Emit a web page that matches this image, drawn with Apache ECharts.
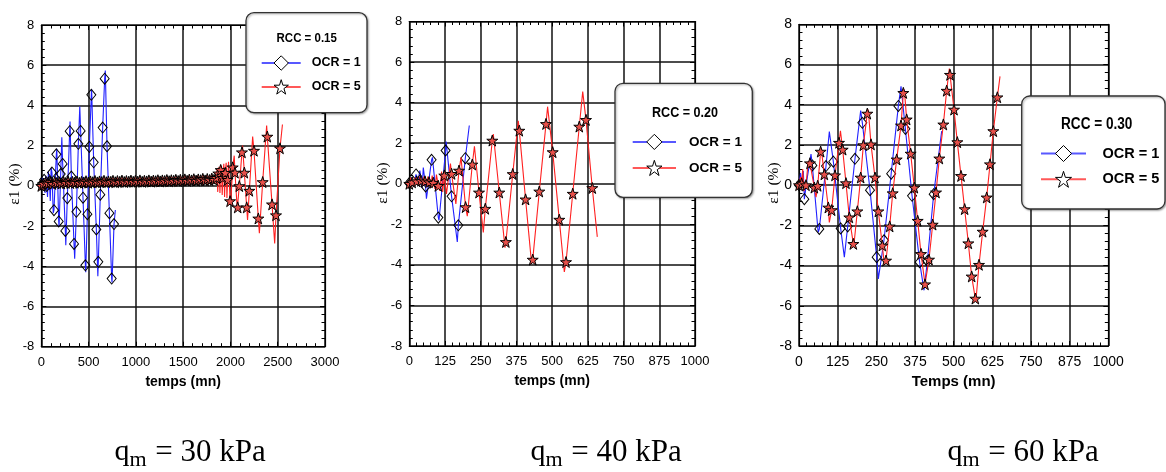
<!DOCTYPE html>
<html>
<head>
<meta charset="utf-8">
<script src="https://cdn.jsdelivr.net/npm/echarts@6/dist/echarts.min.js"></script>
<style>
html,body{margin:0;padding:0;background:#fff;}
#c{width:1166px;height:472px;}
</style>
</head>
<body>
<div id="c"></div>
<script>
// ---------------- DATA ----------------
// each point: [temps (mn), eps1 (%), marker(1) / line vertex only(0)]
const p1_ocr1 = [[0,0.05,1],[12,0.4,0],[22,-0.2,0],[30,0.3,1],[40,-0.35,0],[48,0.5,0],[58,0.0,1],[66,-0.55,0],[75,0.7,0],[85,0.2,1],[95,-0.75,0],[104,0.9,0],[113,0.66,1],[126,-1.35,0],[134,-1.21,1],[159,1.57,1],[164,1.85,0],[184,-1.77,1],[188,-2.04,0],[205,0.59,1],[217,2.42,0],[226,1.09,1],[254,-2.24,1],[259,-2.95,0],[275,-0.61,1],[300,2.72,1],[304,3.2,0],[318,0.46,1],[346,-2.89,1],[353,-3.62,0],[371,-1.29,1],[392,2.09,1],[407,3.95,0],[416,2.73,1],[441,-0.59,1],[466,-3.95,1],[470,-4.3,0],[487,-1.41,1],[508,1.94,1],[529,4.53,1],[532,4.81,0],[554,1.17,1],[582,-2.17,1],[598,-4.5,0],[603,-3.78,1],[624,-0.44,1],[649,2.9,1],[670,5.33,1],[677,5.74,0],[695,1.97,1],[720,-1.36,1],[744,-4.61,1],[748,-4.8,0],[769,-1.9,1],[783,-1.2,0]];
const p1_ocr5 = [[0,0.0,1],[20,0.1,1],[45,0.15,1],[70,0.12,1],[95,0.18,1],[118,0.1,1],[142,0.2,1],[165,0.15,1],[190,0.18,1],[212,0.12,1],[236,0.2,1],[260,0.15,1],[283,0.22,1],[307,0.14,1],[330,0.2,1],[355,0.16,1],[378,0.22,1],[402,0.15,1],[425,0.2,1],[450,0.17,1],[473,0.23,1],[497,0.16,1],[520,0.22,1],[545,0.18,1],[568,0.24,1],[592,0.17,1],[615,0.22,1],[640,0.19,1],[663,0.25,1],[687,0.18,1],[710,0.22,1],[735,0.2,1],[758,0.25,1],[782,0.18,1],[805,0.24,1],[830,0.2,1],[853,0.26,1],[877,0.19,1],[900,0.24,1],[925,0.21,1],[948,0.26,1],[972,0.2,1],[995,0.25,1],[1020,0.21,1],[1043,0.27,1],[1067,0.2,1],[1090,0.25,1],[1115,0.22,1],[1138,0.27,1],[1162,0.21,1],[1185,0.26,1],[1210,0.23,1],[1233,0.28,1],[1257,0.22,1],[1280,0.27,1],[1305,0.24,1],[1328,0.29,1],[1352,0.23,1],[1375,0.28,1],[1400,0.25,1],[1423,0.3,1],[1447,0.24,1],[1470,0.3,1],[1495,0.26,1],[1518,0.32,1],[1542,0.25,1],[1565,0.31,1],[1590,0.27,1],[1613,0.33,1],[1637,0.26,1],[1660,0.32,1],[1685,0.28,1],[1708,0.35,1],[1732,0.27,1],[1755,0.34,1],[1780,0.29,1],[1803,0.36,1],[1827,0.3,1],[1850,0.4,1],[1858,0.8,0],[1866,-0.3,0],[1872,0.62,1],[1880,0.95,0],[1889,-0.35,0],[1897,0.79,1],[1905,1.0,0],[1913,-0.45,0],[1920,0.4,1],[1930,1.1,0],[1938,-0.55,0],[1945,0.65,1],[1955,1.15,0],[1963,-0.6,0],[1970,0.3,1],[1980,1.2,0],[1996,-0.76,1],[2002,-0.95,0],[2024,0.92,1],[2040,1.5,0],[2048,0.66,1],[2072,-1.15,0],[2077,-1.07,1],[2094,-0.01,1],[2122,1.67,1],[2128,2.0,0],[2147,0.66,1],[2172,-1.07,1],[2181,-1.7,0],[2200,-0.24,1],[2235,2.45,0],[2249,1.75,1],[2295,-1.62,1],[2306,-2.35,0],[2341,0.19,1],[2383,3.0,0],[2390,2.45,1],[2440,-0.92,1],[2468,-2.87,0],[2482,-1.46,1],[2524,1.87,1],[2550,3.05,0]];

const p2_ocr1 = [[0,0.03,1],[8,0.3,0],[15,-0.1,0],[23.5,0.46,1],[30,0.1,0],[37,0.65,0],[45,-0.2,0],[49,0.8,0],[57,-0.13,1],[60,-0.74,0],[78,1.18,1],[81,1.3,0],[101.6,-1.67,1],[104,-1.8,0],[127,1.64,1],[129,2.08,0],[148,-0.62,1],[168,-2.87,0],[171.6,-2.05,1],[196,1.26,1],[210,2.87,0]];
const p2_ocr5 = [[0,0.0,1],[5,0.3,0],[10,0.07,1],[15,-0.1,0],[20,0.3,0],[26,0.12,1],[32,-0.1,0],[36,0.35,0],[41,0.15,1],[47,-0.1,0],[51,0.35,0],[55,0.12,1],[61,-0.15,0],[65,0.35,0],[69,0.08,1],[75,-0.2,0],[80,0.4,0],[84,0.05,1],[90,-0.25,0],[95,0.45,0],[101.5,-0.1,1],[107,-0.35,0],[113,0.6,0],[117,-0.4,0],[122.5,0.41,1],[130,-0.5,0],[144,1.0,0],[148,0.49,1],[163,-1.0,0],[174,0.65,1],[181,1.3,0],[197,-1.15,1],[203,-1.6,0],[220.5,0.95,1],[228,1.85,0],[244,-0.43,1],[259,-2.4,0],[266,-1.23,1],[290.5,2.13,1],[294,2.45,0],[315,-0.43,1],[335,-3.15,0],[338,-2.87,1],[362,0.48,1],[381.5,3.1,0],[385,2.62,1],[407,-0.77,1],[428,-3.94,0],[432,-3.74,1],[455,-0.38,1],[478.5,2.95,1],[484,3.8,0],[502,1.56,1],[525,-1.77,1],[542.6,-4.35,0],[548.5,-3.86,1],[572,-0.49,1],[595,2.82,1],[607,4.54,0],[618.5,3.15,1],[640.5,-0.21,1],[658,-2.62,0]];

const p3_ocr1 = [[0,0,1],[5,0.6,0],[10,-0.1,0],[14,0.7,0],[17.3,-0.7,1],[25,0.2,0],[38.8,1.54,0],[43.1,0.98,1],[62,-2.35,0],[65.7,-2.18,1],[87.3,0.95,1],[98.1,2.66,0],[111,1.17,1],[134.7,-2.15,1],[146.6,-3.58,0],[157.4,-2.05,1],[181,1.31,1],[199.4,3.71,0],[204.8,3.1,1],[229.6,-0.25,1],[251.1,-3.58,1],[256.5,-4.66,0],[274.8,-2.74,1],[298,0.57,1],[321.2,3.94,1],[329.8,4.92,0],[344,2.8,1],[365.5,-0.53,1],[390,-3.83,1],[404.2,-5.23,0],[415,-3.78,1],[435.4,-0.45,1],[461.3,2.69,0]];
const p3_ocr5 = [[0,0,1],[5,0.4,0],[8.6,0.08,1],[12,0.8,0],[16,-0.3,0],[22.6,0,1],[30,1.2,0],[35.5,1.09,1],[49.6,-0.12,1],[55,-0.6,0],[60.4,-0.03,1],[70,1.67,1],[72,1.78,0],[81.9,0.54,1],[94.8,-1.11,1],[98,-1.85,0],[105.6,-1.24,1],[116.4,0.49,1],[129.3,2.11,1],[134,2.7,0],[141.2,1.77,1],[151.9,0.1,1],[162.7,-1.6,1],[175.7,-2.92,1],[177,-3.05,0],[188.6,-1.3,1],[199.4,0.38,1],[208,1.99,1],[220.9,3.56,1],[224,3.75,0],[232.8,2.03,1],[245.7,0.38,1],[256.5,-1.3,1],[269.4,-3.0,1],[276,-3.95,0],[281.3,-3.75,1],[293.2,-2.05,1],[302.9,-0.4,1],[315.8,1.28,1],[329.8,2.97,1],[337.3,4.59,1],[340.6,4.75,0],[348.1,3.27,1],[361,1.57,1],[372.9,-0.12,1],[383.7,-1.77,1],[394.5,-3.42,1],[407.4,-4.93,1],[420.3,-3.7,1],[432.2,-1.96,1],[443,-0.36,1],[453.7,1.33,1],[466.7,3.02,1],[477.4,4.7,1],[486,5.8,0],[488.2,5.49,1],[501.2,3.76,1],[511.9,2.14,1],[523.8,0.46,1],[535.6,-1.19,1],[547.5,-2.89,1],[558.3,-4.54,1],[570.1,-5.64,1],[572,-5.75,0],[582,-3.96,1],[593.8,-2.31,1],[606.8,-0.61,1],[617.5,1.04,1],[628.3,2.69,1],[641.3,4.37,1],[649.9,5.41,0]];

const xMax = [3000, 1000, 1000];
const xInterval = [500, 125, 125];
const xNames = ['temps (mn)', 'temps (mn)', 'Temps (mn)'];
const yName = 'ε1 (%)';
const rccLabels = ['RCC = 0.15', 'RCC = 0.20', 'RCC = 0.30'];
const seriesNames = ['OCR = 1', 'OCR = 5'];
const captions = ['30', '40', '60'];

// ---------------- LAYOUT ----------------
const SANS = '"Liberation Sans", Arial, sans-serif';
const SERIF = '"Liberation Serif", "Times New Roman", serif';
const grids = [
  {left: 41.3, top: 25, width: 283.7, height: 321.7},
  {left: 409.3, top: 21.5, width: 285.7, height: 324.5},
  {left: 799, top: 24.3, width: 309.3, height: 321.7}
];
const labelFs = [13, 13, 14];
const nameFs = [14, 14, 15];
const STAR = 'path://M50,0 L61.2,34.5 L97.6,34.5 L68.2,55.9 L79.4,90.5 L50,69.1 L20.6,90.5 L31.8,55.9 L2.4,34.5 L38.8,34.5 Z';

const xAxis = [], yAxis = [], series = [];
const fmt = v => String(v);
for (let i = 0; i < 3; i++) {
  const tickCommon = {show: true, inside: true, length: 5, lineStyle: {color: '#000', width: 1}};
  const minor = {show: true, splitNumber: 5, length: 3.5, lineStyle: {color: '#000', width: 1}};
  xAxis.push({
    gridIndex: i, type: 'value', min: 0, max: xMax[i], interval: xInterval[i], position: 'bottom',
    axisLine: {show: true, onZero: false, lineStyle: {color: '#000', width: 1.2}},
    axisTick: tickCommon, minorTick: minor,
    splitLine: {show: true, lineStyle: {color: '#111', width: 1.5}},
    axisLabel: {fontSize: labelFs[i], color: '#000', margin: 9, fontFamily: SANS, formatter: fmt},
    name: xNames[i], nameLocation: 'middle', nameGap: 28,
    nameTextStyle: {fontWeight: 'bold', fontSize: nameFs[i], color: '#000', fontFamily: SANS}
  });
  xAxis.push({
    gridIndex: i, type: 'value', min: 0, max: xMax[i], interval: xInterval[i], position: 'top',
    axisLine: {show: true, onZero: false, lineStyle: {color: '#000', width: 1.2}},
    axisTick: tickCommon, minorTick: minor,
    splitLine: {show: false}, axisLabel: {show: false}
  });
  yAxis.push({
    gridIndex: i, type: 'value', min: -8, max: 8, interval: 2, position: 'left',
    axisLine: {show: true, onZero: false, lineStyle: {color: '#000', width: 1.2}},
    axisTick: tickCommon, minorTick: minor,
    splitLine: {show: true, lineStyle: {color: '#111', width: 1.5}},
    axisLabel: {fontSize: labelFs[i], color: '#000', margin: 7, fontFamily: SANS, formatter: fmt}
  });
  yAxis.push({
    gridIndex: i, type: 'value', min: -8, max: 8, interval: 2, position: 'right',
    axisLine: {show: true, onZero: false, lineStyle: {color: '#000', width: 1.2}},
    axisTick: tickCommon, minorTick: minor,
    splitLine: {show: false}, axisLabel: {show: false}
  });
}

function toData(arr) {
  return arr.map(p => p[2] ? {value: [p[0], p[1]]} : {value: [p[0], p[1]], symbol: 'none'});
}
const blueSets = [p1_ocr1, p2_ocr1, p3_ocr1];
const redSets = [p1_ocr5, p2_ocr5, p3_ocr5];
for (let i = 0; i < 3; i++) {
  series.push({
    type: 'line', name: seriesNames[0], xAxisIndex: i * 2, yAxisIndex: i * 2,
    data: toData(blueSets[i]), symbol: 'diamond', symbolSize: [9, 11], showSymbol: true,
    lineStyle: {color: '#2020ff', width: 1.1},
    itemStyle: {color: 'rgba(255,255,255,0)', borderColor: '#000', borderWidth: 1},
    emphasis: {disabled: true}, silent: true, z: 3
  });
  series.push({
    type: 'line', name: seriesNames[1], xAxisIndex: i * 2, yAxisIndex: i * 2,
    data: toData(redSets[i]), symbol: STAR, symbolSize: 11, showSymbol: true,
    lineStyle: {color: '#ff2020', width: 1.1},
    itemStyle: {color: '#e8504a', borderColor: '#000', borderWidth: 1},
    emphasis: {disabled: true}, silent: true, z: 4
  });
}

// legend boxes
const boxes = [
  {x: 246, y: 12.7, w: 121, h: 100},
  {x: 615, y: 83.3, w: 137.3, h: 114},
  {x: 1021.7, y: 96, w: 143.3, h: 113}
];
const rccPos = [[306.7, 38, 13.5], [685, 112.7, 14.8], [1096.7, 125, 16]];
const legPos = [
  {left: 260.7, top: 55.3, w: 39, h: 18, gap: 8.5, fs: 12.5, pad: 6},
  {left: 631.7, top: 133.8, w: 43.3, h: 19, gap: 9.8, fs: 13.5, pad: 8},
  {left: 1040, top: 145, w: 45, h: 20, gap: 8.8, fs: 14.5, pad: 11.5}
];
const legend = legPos.map(l => ({
  left: l.left, top: l.top, orient: 'vertical', padding: 0,
  itemWidth: l.w, itemHeight: l.h, itemGap: l.gap, selectedMode: false, z: 30,
  data: seriesNames.map(n => ({name: n})),
  itemStyle: {color: '#fff', borderColor: '#000', borderWidth: 1},
  lineStyle: {width: 2, opacity: 0.75},
  textStyle: {fontSize: l.fs, fontWeight: 'bold', color: '#000', fontFamily: SANS, padding: [0, 0, 0, l.pad]}
}));

const graphic = [];
boxes.forEach(b => graphic.push({
  type: 'rect', z: 20, silent: true,
  shape: {x: b.x, y: b.y, width: b.w, height: b.h, r: 8},
  style: {fill: '#fff', stroke: '#333', lineWidth: 1.3, shadowBlur: 2, shadowOffsetX: 1, shadowOffsetY: 1, shadowColor: 'rgba(0,0,0,0.35)'}
}));
rccPos.forEach((p, i) => graphic.push({
  type: 'text', z: 25, silent: true, x: p[0], y: p[1], scaleX: 0.85,
  style: {text: rccLabels[i], fontSize: p[2], fontWeight: 'bold', fontFamily: SANS, fill: '#000', align: 'center', verticalAlign: 'middle'}
}));
// y-axis titles (rotated)
const yTitlePos = [[15, 184], [383, 183], [773.5, 183]];
yTitlePos.forEach(p => graphic.push({
  type: 'text', silent: true, x: p[0], y: p[1], rotation: Math.PI / 2,
  style: {text: yName, fontSize: 15.5, fontFamily: SERIF, fill: '#000', align: 'center', verticalAlign: 'middle'}
}));
const capX = [114.5, 530.5, 947.5];
capX.forEach((x, i) => {
  graphic.push({type: 'text', silent: true, x: x, y: 452.6,
    style: {text: 'q', fontSize: 30, fontFamily: SERIF, fill: '#000', align: 'left', verticalAlign: 'middle'}});
  graphic.push({type: 'text', silent: true, x: x + 15, y: 460.6,
    style: {text: 'm', fontSize: 22, fontFamily: SERIF, fill: '#000', align: 'left', verticalAlign: 'middle'}});
  graphic.push({type: 'text', silent: true, x: x + 33, y: 452.6,
    style: {text: ' = ' + captions[i] + ' kPa', fontSize: 31, fontFamily: SERIF, fill: '#000', align: 'left', verticalAlign: 'middle'}});
});

const chart = echarts.init(document.getElementById('c'), null, {renderer: 'canvas'});
chart.setOption({
  animation: false,
  backgroundColor: '#fff',
  grid: grids.map(g => Object.assign({containLabel: false, show: false}, g)),
  xAxis, yAxis, series, legend, graphic
});
</script>
</body>
</html>
